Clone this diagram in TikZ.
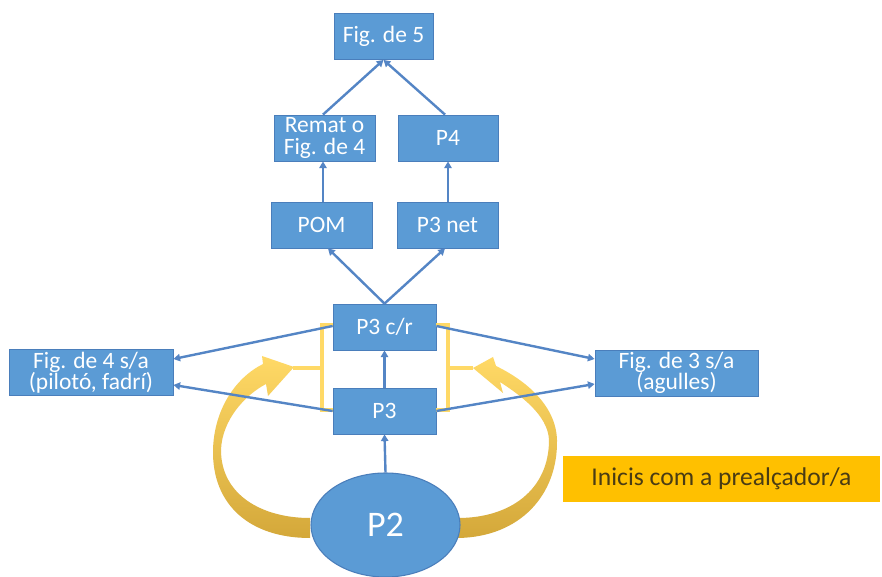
\documentclass[tikz,border=0pt]{standalone}
\usepackage{fontspec}
\setmainfont{Carlito}
\usetikzlibrary{arrows.meta,shapes.geometric}
\definecolor{boxblue}{HTML}{5B9BD5}
\definecolor{boxedge}{HTML}{4A7EBB}
\definecolor{linkblue}{HTML}{5485C5}
\definecolor{gold}{HTML}{FFC000}
\definecolor{lightyel}{HTML}{FFD966}
\definecolor{darkyel}{HTML}{D4A83A}
\definecolor{txtdark}{HTML}{4A3C14}
\tikzset{
  box/.style={draw=boxedge, line width=0.6pt, fill=boxblue, text=white, inner sep=0pt,
    align=center, font=\fontsize{17.6}{16}\selectfont, minimum height=46*0.75pt},
  link/.style={draw=linkblue, line width=1.8pt, -{Triangle[length=5pt,width=5.5pt]}},
  bracket/.style={draw=lightyel, line width=2.6pt},
  yarrow/.style={top color=lightyel, bottom color=darkyel, draw=none}
}
\begin{document}
\begin{tikzpicture}[x=0.75pt,y=-0.75pt]
\useasboundingbox[fill=white] (0,0) rectangle (882,577);

% yellow curved arrows (behind)
\path[yarrow] (310,538) .. controls (250,538) and (212,505) .. (213,450)
  .. controls (214,410) and (235,378) .. (263,364) -- (262,356) -- (294,367) -- (268,396) -- (266,384)
  .. controls (245,395) and (222,420) .. (221,450)
  .. controls (221,495) and (262,518) .. (310,518) -- cycle;
\path[yarrow] (458,538) .. controls (520,537) and (558,495) .. (557,440)
  .. controls (556,405) and (525,380) .. (496,366) -- (493,357) -- (473,368) -- (503,393) -- (500,382)
  .. controls (520,395) and (548,415) .. (549,440)
  .. controls (549,490) and (510,518) .. (458,518) -- cycle;

% nodes
\node[box, minimum width=99*0.75pt]  (f5)    at (383.5,36.5) {Fig. de 5};
\node[box, minimum width=101*0.75pt] (remat) at (324.5,138) {Remat o\\Fig. de 4};
\node[box, minimum width=100*0.75pt] (p4)    at (448,138) {P4};
\node[box, minimum width=101*0.75pt] (pom)   at (321.5,225) {POM};
\node[box, minimum width=101*0.75pt] (p3net) at (447.5,225) {P3 net};
\node[box, minimum width=103*0.75pt] (p3cr)  at (384.5,327) {P3 c/r};
\node[box, minimum width=103*0.75pt] (p3)    at (384.5,411) {P3};
\node[box, minimum width=164*0.75pt] (f4)    at (91,372.5) {Fig. de 4 s/a\\(pilotó, fadrí)};
\node[box, minimum width=163*0.75pt] (f3)    at (676.5,373) {Fig. de 3 s/a\\(agulles)};
\node[ellipse, draw=boxedge, line width=0.8pt, fill=boxblue, text=white, inner sep=0pt,
  minimum width=149*0.75pt, minimum height=104*0.75pt,
  font=\fontsize{27}{27}\selectfont] (p2) at (385.5,525) {P2};
\node[fill=gold, text=txtdark, inner sep=0pt, minimum width=317*0.75pt, minimum height=46*0.75pt,
  font=\fontsize{19.2}{19.2}\selectfont] (inicis) at (721.5,479) {Inicis com a prealçador/a};

% yellow brackets
\draw[bracket] (p3cr.west |- 0,325) -- (322,325) -- (322,410) -- (p3.west |- 0,410);
\draw[bracket] (322,368) -- (293,368);
\draw[bracket] (p3cr.east |- 0,325) -- (448,325) -- (448,410) -- (p3.east |- 0,410);
\draw[bracket] (448,368) -- (473,368);

% connectors
\draw[link] (p2.north) -- (p3.south);
\draw[link] (p3.north) -- (p3cr.south);
\draw[link] (p3cr.north) -- (pom.south -| 328,0);
\draw[link] (p3cr.north) -- (p3net.south -| 445,0);
\draw[link] (pom.north -| 323,0) -- (remat.south -| 323,0);
\draw[link] (p3net.north -| 448,0) -- (p4.south -| 448,0);
\draw[link] (remat.north -| 323,0) -- (f5.south);
\draw[link] (p4.north -| 445,0) -- (f5.south);
\draw[link] (p3cr.west |- 0,326) -- (f4.east |- 0,359);
\draw[link] (p3.west |- 0,411) -- (f4.east |- 0,385);
\draw[link] (p3cr.east |- 0,326) -- (f3.west |- 0,359);
\draw[link] (p3.east |- 0,411) -- (f3.west |- 0,384);
\end{tikzpicture}
\end{document}
